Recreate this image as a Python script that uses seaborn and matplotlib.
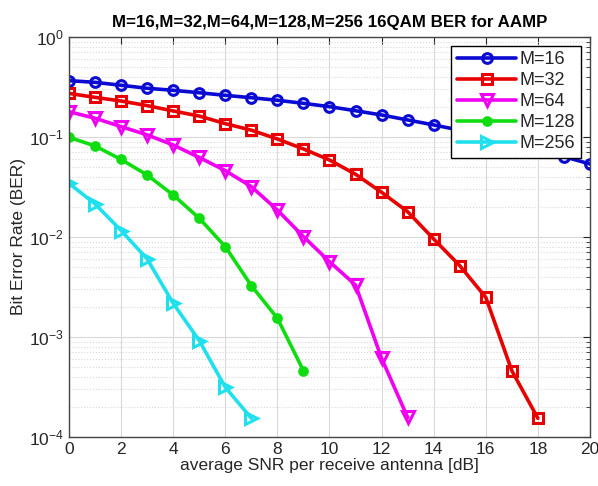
import numpy as np
import pandas as pd
import seaborn as sns
import matplotlib
matplotlib.use("Agg")
import matplotlib.pyplot as plt
from matplotlib.ticker import LogLocator, NullFormatter

# ---- data ----
snr_16 = list(range(0, 21))
ber_16 = [0.366, 0.352, 0.329, 0.307, 0.293, 0.277, 0.261, 0.247, 0.233, 0.217,
          0.201, 0.183, 0.166, 0.148, 0.132, 0.117, 0.0966, 0.0851, 0.0741, 0.0636, 0.0537]

snr_32 = list(range(0, 19))
ber_32 = [0.273, 0.249, 0.229, 0.206, 0.182, 0.162, 0.136, 0.117, 0.0955, 0.0759,
          0.0589, 0.0424, 0.0280, 0.0179, 0.00955, 0.00517, 0.00249, 0.00046, 0.000154]

snr_64 = list(range(0, 14))
ber_64 = [0.179, 0.154, 0.127, 0.105, 0.0832, 0.0624, 0.0461, 0.0319, 0.0186, 0.0101,
          0.00566, 0.00331, 0.000612, 0.000157]

snr_128 = list(range(0, 10))
ber_128 = [0.0993, 0.0813, 0.0596, 0.0417, 0.0263, 0.0154, 0.0080, 0.00326, 0.00154, 0.00046]

snr_256 = list(range(0, 8))
ber_256 = [0.0344, 0.0214, 0.0116, 0.00603, 0.00217, 0.00092, 0.000314, 0.000154]

labels = ["M=16", "M=32", "M=64", "M=128", "M=256"]
x_ticks = list(range(0, 21, 2))

title = "M=16,M=32,M=64,M=128,M=256 16QAM BER for AAMP"
xlabel = "average SNR per receive antenna [dB]"
ylabel = "Bit Error Rate (BER)"

# ---- style ----
sns.set_theme(style="white")
plt.rcParams["font.family"] = ["Liberation Sans", "DejaVu Sans"]
plt.rcParams["mathtext.fontset"] = "custom"
plt.rcParams["mathtext.rm"] = "Liberation Sans"
plt.rcParams["mathtext.it"] = "Liberation Sans:italic"
plt.rcParams["mathtext.bf"] = "Liberation Sans:bold"

fig = plt.figure(figsize=(5.98, 4.86), dpi=100)
ax = fig.add_axes([0.1154, 0.1008, 0.9866 - 0.1154, 0.9239 - 0.1008])
ax.set_yscale("log")

series = [
    (snr_16, ber_16, "#0a0ad2", "o", 7.0, "none"),
    (snr_32, ber_32, "#e80000", "s", 6.5, "none"),
    (snr_64, ber_64, "#f000f0", "v", 9.0, "none"),
    (snr_128, ber_128, "#10dd10", "o", 5.5, None),
    (snr_256, ber_256, "#20e0ee", ">", 9.0, "none"),
]

for (xs, ys, col, mk, ms, mfc), lab in zip(series, labels):
    df = pd.DataFrame({"snr": xs, "ber": ys})
    kw = dict(marker=mk, markersize=ms, markeredgewidth=2.2, markeredgecolor=col)
    kw["markerfacecolor"] = col if mfc is None else mfc
    sns.lineplot(data=df, x="snr", y="ber", ax=ax, color=col, linewidth=2.6,
                 label=lab, **kw)

ax.set_xlim(0, 20)
ax.set_ylim(1e-4, 1)
ax.set_xticks(x_ticks)
ax.yaxis.set_major_locator(LogLocator(base=10, numticks=10))
ax.yaxis.set_minor_locator(LogLocator(base=10, subs=np.arange(2, 10), numticks=20))
ax.yaxis.set_minor_formatter(NullFormatter())

ax.grid(True, which="major", color="#d9d9d9", linestyle="-", linewidth=0.8)
ax.grid(True, which="minor", axis="y", color="#d9d9d9", linestyle=":", linewidth=0.8)
ax.set_axisbelow(True)

for s in ax.spines.values():
    s.set_color("#444444")
    s.set_linewidth(1.0)

ax.tick_params(which="both", direction="in", top=True, right=True,
               colors="#262626", labelcolor="#262626", labelsize=12.5)
ax.tick_params(which="major", length=5, width=0.8)
ax.tick_params(which="minor", length=3, width=0.6)

ax.set_xlabel(xlabel, fontsize=12.5, color="#262626", labelpad=1)
ax.set_ylabel(ylabel, fontsize=12.5, color="#262626", labelpad=2)
ax.set_title(title, fontsize=12.2, fontweight="bold", color="black", pad=7)

leg = ax.legend(loc="upper right", fontsize=13, frameon=True, fancybox=False,
                edgecolor="black", framealpha=1.0, handlelength=3.3,
                borderpad=0.3, labelspacing=0.22, handletextpad=0.2,
                borderaxespad=0.5)
leg.get_frame().set_linewidth(1.0)

fig.savefig("out.png", dpi=100, facecolor="white")
